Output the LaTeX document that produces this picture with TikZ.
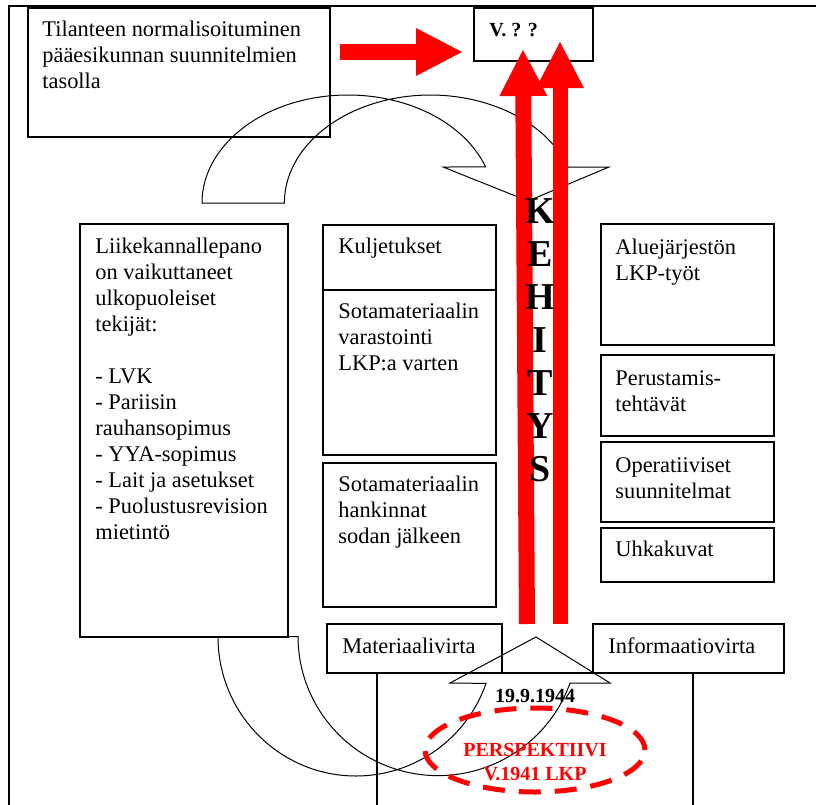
\documentclass[tikz,border=0pt]{standalone}
\usepackage{fontspec}
\setmainfont{Liberation Serif}
\usepackage{tikz}
\usetikzlibrary{fit}
\usetikzlibrary{shapes.geometric}
\usetikzlibrary{arrows.meta}
\tikzset{
  mybox/.style={
    draw=black,
    line width=0.7pt,
    inner sep=0pt,
  },
  mytext/.style={
    inner sep=0pt,
    align=left,
    anchor=base west,
  },
  myblockarrow/.style={
    draw=black,
    line width=0.5pt,
  },
  myredarrow/.style={
    draw=red,
    line width=8pt,
    -{Triangle[length=23pt, width=24pt, line width=0pt]},
  },
  myellipse/.style={
    draw=red,
    shape=ellipse,
    line width=2.5pt,
    dash pattern=on 11pt off 7pt,
    inner sep=0pt,
    minimum width=110pt,
    minimum height=42pt,
  },
  myredtext/.style={
    text=red,
    font=\bfseries,
    align=center,
    inner sep=0pt,
    anchor=base,
  }
}

\begin{document}
\begin{tikzpicture}[x=0.5pt, y=-0.5pt, font=\fontsize{11.2}{13}\selectfont]
    \useasboundingbox (0,0) rectangle (816,805);
    \draw [line width=1.1pt] (9,805) -- (9,6) -- (816,6);

    \node [mybox, fit={(28,8) (330,137)}] (Tila) {};
    \node [mytext] (TilaTxt) at (42,88) {Tilanteen normalisoituminen\\pääesikunnan suunnitelmien\\tasolla};
    \node [mybox, fit={(474,8) (593,61)}] (V) {};
    \node [mytext, font=\bfseries] (VTxt) at (489,36) {V. ? ?};

    \node [mybox, fit={(80,224) (288,637)}] (Liike) {};
    \node [mytext] (LiikeTxt) at (95,539) {Liikekannallepano\\on vaikuttaneet\\ulkopuoleiset\\tekijät:\\[13pt]- LVK\\- Pariisin\\rauhansopimus\\- YYA-sopimus\\- Lait ja asetukset\\- Puolustusrevision\\mietintö};

    \node [mybox, fit={(323,225) (496,290)}] (Kulj) {};
    \node [mytext] (KuljTxt) at (338,253) {Kuljetukset};
    \node [mybox, fit={(323,290) (496,455)}] (Varast) {};
    \node [mytext] (VarastTxt) at (338,370) {Sotamateriaalin\\varastointi\\LKP:a varten};
    \node [mybox, fit={(323,463) (496,607)}] (Hank) {};
    \node [mytext] (HankTxt) at (338,543) {Sotamateriaalin\\hankinnat\\sodan jälkeen};

    \node [mybox, fit={(601,224) (774,345)}] (Alue) {};
    \node [mytext] (AlueTxt) at (615,280) {Aluejärjestön\\LKP-työt};
    \node [mybox, fit={(601,355) (774,436)}] (Perus) {};
    \node [mytext] (PerusTxt) at (615,411) {Perustamis-\\tehtävät};
    \node [mybox, fit={(601,442) (774,522)}] (Oper) {};
    \node [mytext] (OperTxt) at (615,498) {Operatiiviset\\suunnitelmat};
    \node [mybox, fit={(601,528) (774,582)}] (Uhka) {};
    \node [mytext] (UhkaTxt) at (615,556) {Uhkakuvat};

    \node [mybox, fit={(327,624) (502,673)}] (Mater) {};
    \node [mytext] (MaterTxt) at (342,653) {Materiaalivirta};
    \node [mybox, fit={(593,624) (784,673)}] (Info) {};
    \node [mytext] (InfoTxt) at (608,653) {Informaatiovirta};
    \draw [mybox] (377,805) -- (377,673) -- (693,673) -- (693,805);

    \draw [myblockarrow] (202,203) arc[start angle=180, end angle=340.5, x radius=146, y radius=108]
      -- (443,167) -- (528,201) -- (609,167) -- (568,167)
      arc[start angle=340.5, end angle=180, x radius=146, y radius=108] -- cycle;
    \draw [myblockarrow] (218,637) arc[start angle=180, end angle=19.5, x radius=138, y radius=139]
      -- (450,683) -- (536,637) -- (610,683) -- (570,683)
      arc[start angle=19.5, end angle=180, x radius=140, y radius=139] -- cycle;

    \coordinate (hStart) at (340,52);
    \coordinate (hEnd) at (462,52);
    \coordinate (kehL0) at (527,624);
    \coordinate (kehL1) at (523,50);
    \coordinate (kehR0) at (560,624);
    \coordinate (kehR1) at (560,42);
    \draw [myredarrow] (hStart) -- (hEnd);
    \draw [myredarrow] (kehL0) -- (kehL1);
    \draw [myredarrow, line width=7.5pt] (kehR0) -- (kehR1);
    \node [mytext, anchor=base, align=center, font=\bfseries\fontsize{19}{21.5}\selectfont] (Kehitys) at (540,481) {K\\E\\H\\I\\T\\Y\\S};

    \node [myellipse] (Persp) at (535,750) {};
    \node [mytext, anchor=base, font=\bfseries] (Date) at (535,702) {19.9.1944};
    \node [myredtext] (PerspTxt) at (535,780) {PERSPEKTIIVI\\V.1941 LKP};
  \end{tikzpicture}
\end{document}
